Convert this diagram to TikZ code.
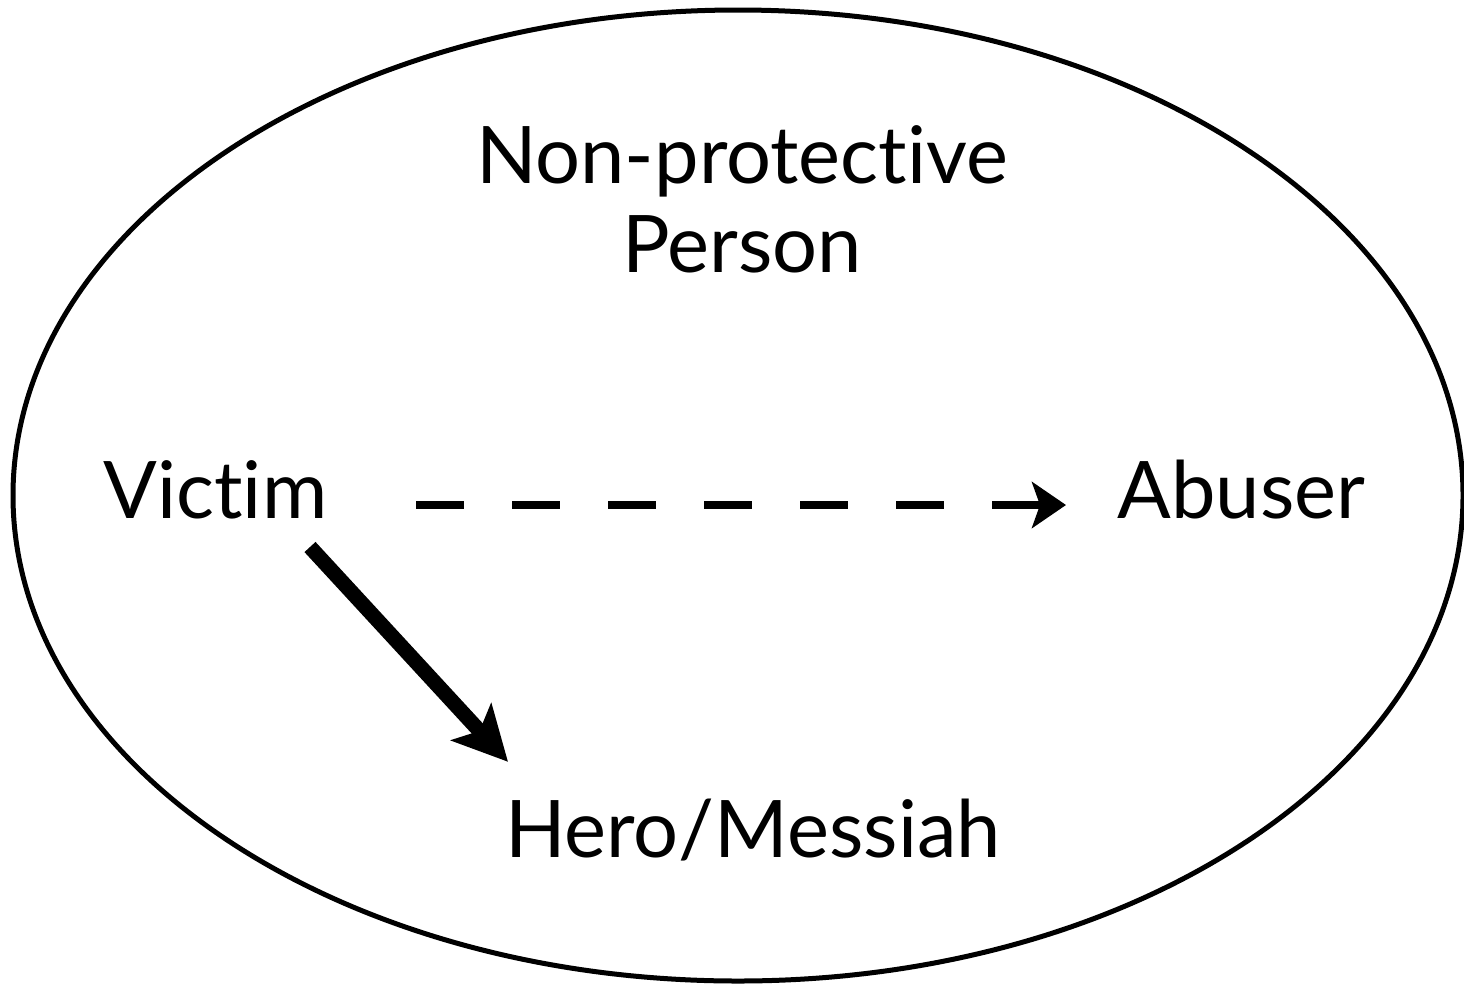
\documentclass[tikz,border=0pt]{standalone}
\usepackage{fontspec}
\setmainfont{Lato}[Ligatures={NoCommon}]
\usepackage{tikz}
\usetikzlibrary{arrows.meta}

\tikzset{
  lbl/.style={inner sep=0cm, font=\fontsize{22.6}{25.2}\selectfont},
  dasharrow/.style={line width=0.08cm, dash pattern=on 0.48cm off 0.48cm,
       -{Stealth[length=0.34cm, width=0.46cm, inset=0.08cm]}},
  thickarrow/.style={line width=0.15cm,
       -{Stealth[length=0.54cm, width=0.54cm, inset=0.12cm]}}
}

\begin{document}
\begin{tikzpicture}
\useasboundingbox (0,0) rectangle (14.64,-9.84);

\draw[line width=0.05cm] (7.38,-4.955) ellipse (7.25cm and 4.855cm);

\draw (7.42,-1.25) node[lbl, anchor=north, align=center] (npp) {Non-protective\\Person};
\draw (3.28,-5.18) node[lbl, anchor=base east] (victim) {Victim};
\draw (11.17,-5.18) node[lbl, anchor=base west] (abuser) {Abuser};
\draw (7.53,-8.57) node[lbl, anchor=base] (hero) {Hero/Messiah};

\draw[dasharrow] ([shift={(0.88,0.13)}]victim.base east) -- ([shift={(-0.51,0.13)}]abuser.base west);
\draw[thickarrow] ([shift={(-0.18,-0.29)}]victim.base east) -- ([shift={(-2.45,0.36)}]hero.north);
\end{tikzpicture}
\end{document}
